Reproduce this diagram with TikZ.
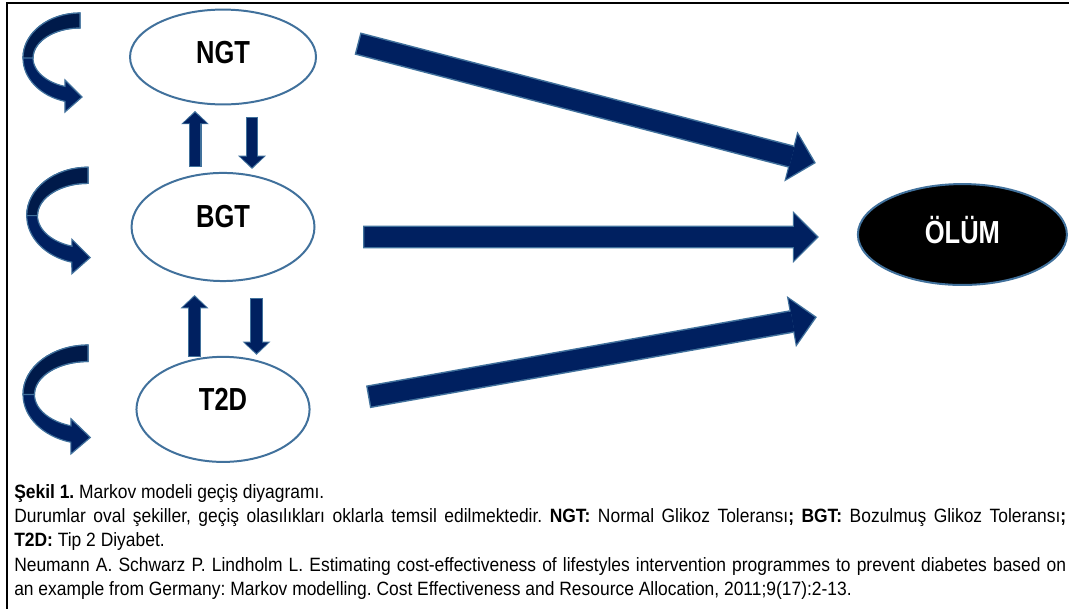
\documentclass[tikz,border=0pt]{standalone}
\usepackage{fontspec}
\setmainfont{Liberation Sans}
\newfontfamily\statefont[FakeStretch=0.8]{Liberation Sans}
\newfontfamily\captionfont[FakeStretch=0.905]{Liberation Sans}
\usetikzlibrary{arrows.meta,positioning,shapes.geometric,calc}
\definecolor{MarkovNavy}{HTML}{002060}
\definecolor{MarkovDeep}{HTML}{001A4A}
\definecolor{MarkovEdge}{HTML}{41719C}

\tikzset{
  selfloop/.pic={
    \fill[MarkovNavy,draw=MarkovEdge,line width=0.9pt]
      (0,1.190) arc[start angle=90,end angle=254.7,x radius=1.508,y radius=1.190]
      -- (-0.397,-1.429) -- (0.053,-1.032) -- (-0.397,-0.582) -- (-0.396,-0.753)
      arc[start angle=251.4,end angle=90,x radius=1.243,y radius=0.794] -- cycle;
    \fill[MarkovDeep,draw=MarkovEdge,line width=0.9pt]
      (0,1.190) arc[start angle=90,end angle=180,x radius=1.508,y radius=1.190]
      -- (-1.243,0) arc[start angle=180,end angle=90,x radius=1.243,y radius=0.794] -- cycle;
  }
}

\newcommand{\blockarrow}[3]{%
  \draw[#1rim] (#2) -- (#3);
  \draw[#1body] (#2) -- (#3);
}

\begin{document}
\begin{tikzpicture}[
    state/.style={ellipse,draw=MarkovEdge,line width=1.5pt,fill=white,inner sep=0pt},
    statetext/.style={font=\statefont\bfseries\fontsize{24}{28}\selectfont},
    bigrim/.style={draw=MarkovEdge,line width=17.25pt,
      -{Triangle[width=39pt,length=19.5pt,line width=0pt]}},
    bigbody/.style={draw=MarkovNavy,line width=15pt,shorten <=1.1pt,shorten >=1.6pt,
      -{Triangle[width=34.5pt,length=17pt,line width=0pt]}},
    smallrim/.style={draw=MarkovEdge,line width=9.75pt,
      -{Triangle[width=21pt,length=10pt,line width=0pt]}},
    smallbody/.style={draw=MarkovNavy,line width=7.9pt,shorten <=0.9pt,shorten >=1.3pt,
      -{Triangle[width=17.8pt,length=8pt,line width=0pt]}},
    caption/.style={text width=27.83cm,align=justify,inner sep=0pt,
      font=\captionfont\fontsize{14.5}{18.4}\selectfont\frenchspacing}
  ]
  \useasboundingbox (0,0) rectangle (28.28,-16.11);

  % frame
  \draw[line width=1.8pt] (28.28,-0.079) -- (0.185,-0.079) -- (0.185,-16.11);

  % states
  \node[state,minimum width=4.92cm,minimum height=2.51cm,
    label={[statetext,yshift=0.13cm]center:NGT}] (ngt) at (5.90,-1.508) {};
  \node[state,minimum width=4.84cm,minimum height=2.86cm,
    label={[statetext,yshift=0.27cm]center:BGT}] (bgt) at (5.90,-6.005) {};
  \node[state,minimum width=4.58cm,minimum height=2.78cm,
    label={[statetext,yshift=0.27cm]center:T2D}] (t2d) at (5.90,-10.83) {};
  \node[state,fill=black,minimum width=5.53cm,minimum height=2.67cm,
    label={[statetext,text=white,yshift=0.13cm]center:ÖLÜM}] (olum) at (25.46,-6.204) {};

  % staying in the same state
  \pic (loopngt) at (2.116,-1.534) {selfloop};
  \pic[scale=1.075] (loopbgt) at (2.328,-5.704) {selfloop};
  \pic[xscale=1.14,yscale=1.10] (loopt2d) at (2.328,-10.437) {selfloop};

  % NGT <-> BGT
  \coordinate (a1s) at ([shift={(-0.74,0.13)}]bgt.north);
  \coordinate (a1e) at ([shift={(-0.74,-0.146)}]ngt.south);
  \coordinate (a2s) at ([shift={(0.767,-0.304)}]ngt.south);
  \coordinate (a2e) at ([shift={(0.767,0.079)}]bgt.north);
  \blockarrow{small}{a1s}{a1e}
  \blockarrow{small}{a2s}{a2e}

  % BGT <-> T2D
  \coordinate (a3s) at ([shift={(-0.754,-0.026)}]t2d.north);
  \coordinate (a3e) at ([shift={(-0.754,-0.344)}]bgt.south);
  \coordinate (a4s) at ([shift={(0.886,-0.423)}]bgt.south);
  \coordinate (a4e) at ([shift={(0.886,0.026)}]t2d.north);
  \blockarrow{small}{a3s}{a3e}
  \blockarrow{small}{a4s}{a4e}

  % to death
  \coordinate (b1s) at ([shift={(1.071,0.357)}]ngt.east);
  \coordinate (b1e) at ([shift={(-1.085,1.892)}]olum.west);
  \coordinate (b2s) at ([shift={(1.257,-0.265)}]bgt.east);
  \coordinate (b2e) at ([shift={(-1.005,-0.066)}]olum.west);
  \coordinate (b3s) at ([shift={(1.521,0.331)}]t2d.east);
  \coordinate (b3e) at ([shift={(-1.058,-2.183)}]olum.west);
  \blockarrow{big}{b1s}{b1e}
  \blockarrow{big}{b2s}{b2e}
  \blockarrow{big}{b3s}{b3e}

  % caption
  \node[caption,anchor=base west] (cap) at (0.370,-13.175) {%
    \textbf{Şekil 1.} Markov modeli geçiş diyagramı.\par
    Durumlar oval şekiller, geçiş olasılıkları oklarla temsil edilmektedir.
    \textbf{NGT:} Normal Glikoz Toleransı\textbf{;} \textbf{BGT:} Bozulmuş Glikoz
    Toleransı\textbf{;}\linebreak \textbf{T2D:} Tip 2 Diyabet.\par
    Neumann A. Schwarz P. Lindholm L. Estimating cost-effectiveness of lifestyles
    intervention programmes to prevent diabetes based on\linebreak an example from
    Germany: Markov modelling. Cost Effectiveness and Resource Allocation,
    2011;9(17):2-13.};
\end{tikzpicture}
\end{document}
